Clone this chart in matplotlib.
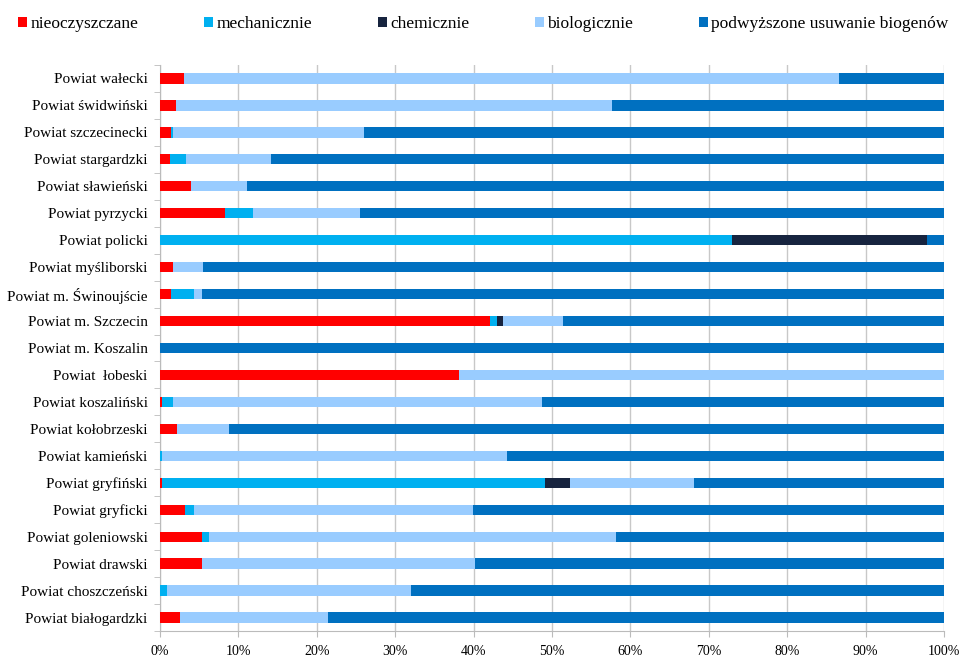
import matplotlib
matplotlib.use("Agg")
import matplotlib.pyplot as plt
import numpy as np
from matplotlib.ticker import PercentFormatter

categories = [
    "Powiat wałecki", "Powiat świdwiński", "Powiat szczecinecki", "Powiat stargardzki",
    "Powiat sławieński", "Powiat pyrzycki", "Powiat policki", "Powiat myśliborski",
    "Powiat m. Świnoujście", "Powiat m. Szczecin", "Powiat m. Koszalin", "Powiat  łobeski",
    "Powiat koszaliński", "Powiat kołobrzeski", "Powiat kamieński", "Powiat gryfiński",
    "Powiat gryficki", "Powiat goleniowski", "Powiat drawski", "Powiat choszczeński",
    "Powiat białogardzki",
]
nieoczyszczane = [3.1, 2.0, 1.4, 1.3, 4.0, 8.3, 0.0, 1.7, 1.4, 42.1, 0.0, 38.2,
                  0.3, 2.2, 0.0, 0.3, 3.2, 5.4, 5.3, 0.0, 2.6]
mechanicznie = [0.0, 0.0, 0.2, 2.0, 0.0, 3.5, 72.9, 0.0, 3.0, 0.9, 0.0, 0.0,
                1.3, 0.0, 0.3, 48.8, 1.2, 0.9, 0.0, 0.9, 0.0]
chemicznie = [0.0, 0.0, 0.0, 0.0, 0.0, 0.0, 24.9, 0.0, 0.0, 0.7, 0.0, 0.0,
              0.0, 0.0, 0.0, 3.2, 0.0, 0.0, 0.0, 0.0, 0.0]
biologicznie = [83.5, 55.7, 24.4, 10.8, 7.1, 13.7, 0.0, 3.8, 0.9, 7.7, 0.0, 61.8,
                47.1, 6.6, 43.9, 15.8, 35.5, 51.9, 34.9, 31.1, 18.8]
podwyzszone = [13.4, 42.3, 74.0, 85.9, 88.9, 74.5, 2.2, 94.5, 94.7, 48.6, 100.0, 0.0,
               51.3, 91.2, 55.8, 31.9, 60.1, 41.8, 59.8, 68.0, 78.6]
series_names = ["nieoczyszczane", "mechanicznie", "chemicznie", "biologicznie",
                "podwyższone usuwanie biogenów"]
colors = ["#FF0000", "#00B0F0", "#17243F", "#99CCFF", "#0070C0"]

plt.rcParams['font.family'] = ['Liberation Serif', 'DejaVu Serif']

fig = plt.figure(figsize=(9.63, 6.6), dpi=100)
ax = fig.add_axes([160/963, 1 - 631/660, 784/963, 566/660])

data = [nieoczyszczane, mechanicznie, chemicznie, biologicznie, podwyzszone]
n = len(categories)
y = np.arange(n)[::-1]
left = np.zeros(n)
handles = []
for name, vals, c in zip(series_names, data, colors):
    v = np.array(vals, dtype=float)
    b = ax.barh(y, v, left=left, height=0.38, color=c, label=name, zorder=3)
    handles.append(b)
    left += v

ax.set_xlim(0, 100)
ax.set_ylim(-0.5, n - 0.5)
ax.set_yticks(y)
ax.set_yticklabels(categories, fontsize=11)
ax.set_xticks(np.arange(0, 101, 10))
ax.xaxis.set_major_formatter(PercentFormatter(decimals=0))
ax.tick_params(axis='x', labelsize=10, length=4, color='#BBBBBB', pad=6)
ax.tick_params(axis='y', length=0, pad=9)
ax.set_yticks(np.arange(-0.5, n, 1.0), minor=True)
ax.tick_params(axis='y', which='minor', length=4, color='#BBBBBB')
ax.grid(axis='x', color='#C8C8C8', linewidth=1, zorder=0)
for s in ['top', 'right']:
    ax.spines[s].set_visible(False)
for s in ['left', 'bottom']:
    ax.spines[s].set_color('#BBBBBB')

fig.legend(handles=handles, labels=series_names, loc='center', bbox_to_anchor=(0.502, 1 - 24/660),
           ncol=5, frameon=False, fontsize=12.5, handlelength=0.5, handleheight=0.5,
           handletextpad=0.2, columnspacing=3.8)

fig.savefig("out.png", dpi=100)
